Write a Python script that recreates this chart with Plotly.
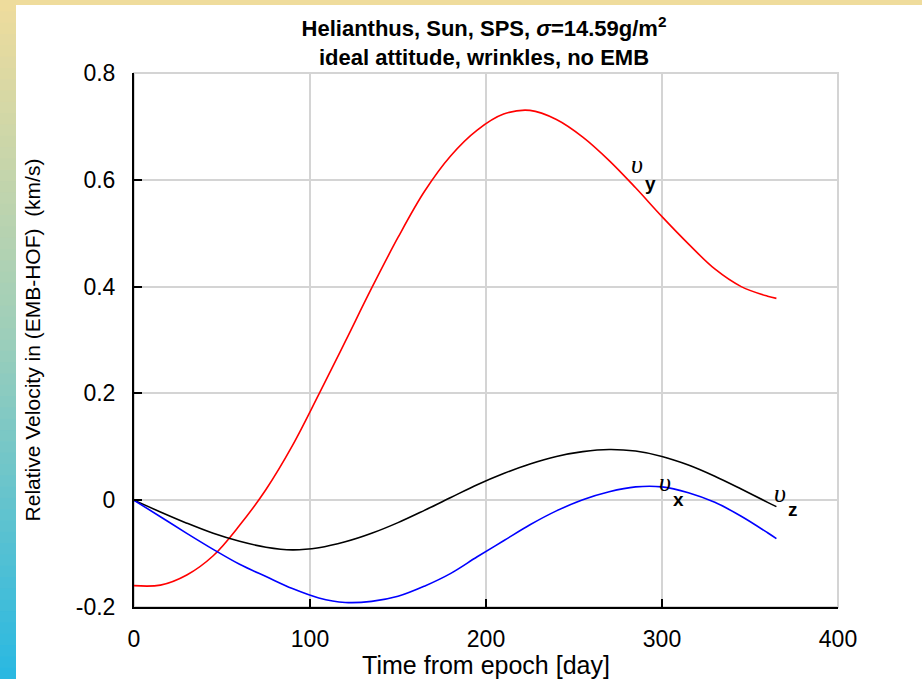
import plotly.graph_objects as go

# ---- data ----
t_days = [0, 15, 30, 45, 60, 75, 90, 105, 120, 135, 150, 165, 180, 195,
          210, 225, 240, 255, 270, 285, 300, 315, 330, 345, 360, 365]
v_y = [-0.160, -0.159, -0.140, -0.104, -0.047, 0.020, 0.102, 0.198, 0.297, 0.397,
       0.492, 0.578, 0.645, 0.693, 0.723, 0.730, 0.713, 0.680, 0.636, 0.585,
       0.531, 0.480, 0.433, 0.400, 0.382, 0.378]
v_z = [0.0, -0.022, -0.043, -0.062, -0.077, -0.088, -0.093, -0.089, -0.078, -0.062,
       -0.042, -0.019, 0.005, 0.029, 0.050, 0.068, 0.082, 0.091, 0.095, 0.092,
       0.082, 0.066, 0.045, 0.021, -0.004, -0.012]
v_x = [0.0, -0.031, -0.062, -0.092, -0.120, -0.143, -0.1655, -0.183, -0.1915, -0.1895,
       -0.180, -0.161, -0.137, -0.106, -0.076, -0.046, -0.020, 0.001, 0.016, 0.025,
       0.025, 0.014, -0.004, -0.030, -0.061, -0.072]

x_ticks = [0, 100, 200, 300, 400]
y_ticks = [-0.2, 0, 0.2, 0.4, 0.6, 0.8]
y_ticklabels = ["-0.2", "0", "0.2", "0.4", "0.6", "0.8"]

W, H = 922, 679
L, R, T, B = 134, 84, 73, 72
PW, PH = W - L - R, H - T - B

fig = go.Figure()
fig.add_trace(go.Scatter(x=t_days, y=v_y, mode="lines", line=dict(color="#ff0000", width=1.6, shape="spline", smoothing=1.0), showlegend=False))
fig.add_trace(go.Scatter(x=t_days, y=v_z, mode="lines", line=dict(color="#000000", width=1.6, shape="spline", smoothing=1.0), showlegend=False))
fig.add_trace(go.Scatter(x=t_days, y=v_x, mode="lines", line=dict(color="#0000ff", width=1.6, shape="spline", smoothing=1.0), showlegend=False))

def px_to_paper_x(px):
    return (px - L) / PW

def px_to_paper_y(py):
    return 1 - (py - T) / PH

shapes = []
# decorative gradient strip on left and top band
stops = [(0.0, (239, 220, 156)), (0.5, (156, 206, 186)), (1.0, (40, 184, 226))]
def grad(f):
    for i in range(len(stops) - 1):
        f0, c0 = stops[i]
        f1, c1 = stops[i + 1]
        if f0 <= f <= f1:
            u = (f - f0) / (f1 - f0)
            return "rgb(%d,%d,%d)" % tuple(round(c0[k] + u * (c1[k] - c0[k])) for k in range(3))
    return "rgb(40,184,226)"
N = 60
for i in range(N):
    y0 = i * H / N
    y1 = (i + 1) * H / N + 1
    shapes.append(dict(type="rect", xref="paper", yref="paper",
                       x0=px_to_paper_x(0), x1=px_to_paper_x(16),
                       y0=px_to_paper_y(y1), y1=px_to_paper_y(y0),
                       fillcolor=grad((i + 0.5) / N), line=dict(width=0), layer="below"))
shapes.append(dict(type="rect", xref="paper", yref="paper",
                   x0=px_to_paper_x(16), x1=px_to_paper_x(W),
                   y0=px_to_paper_y(5), y1=px_to_paper_y(0),
                   fillcolor="rgb(239,220,156)", line=dict(width=0), layer="below"))
# light grey box (top/right)
shapes.append(dict(type="rect", xref="paper", yref="paper", x0=0, x1=1, y0=0, y1=1,
                   line=dict(color="#d4d4d4", width=2), layer="below"))

ann_font_v = dict(family="Liberation Serif", size=26, color="black")
ann_font_s = dict(family="Liberation Sans", size=19, color="black")
annotations = [
    dict(x=285.7, y=0.628, text="<i>υ</i>", showarrow=False, font=ann_font_v),
    dict(x=293.7, y=0.594, text="<b>y</b>", showarrow=False, font=ann_font_s),
    dict(x=301.6, y=0.034, text="<i>υ</i>", showarrow=False, font=ann_font_v),
    dict(x=309.6, y=0.002, text="<b>x</b>", showarrow=False, font=ann_font_s),
    dict(x=367.0, y=0.013, text="<i>υ</i>", showarrow=False, font=ann_font_v),
    dict(x=374.4, y=-0.017, text="<b>z</b>", showarrow=False, font=ann_font_s),
]

fig.update_layout(
    width=W, height=H,
    margin=dict(l=L, r=R, t=T, b=B, pad=0, autoexpand=False),
    paper_bgcolor="white", plot_bgcolor="white",
    font=dict(family="Liberation Sans", color="black"),
    title=dict(text="<b>Helianthus, Sun, SPS, <i>σ</i>=14.59g/m<sup>2</sup></b><br><b>ideal attitude, wrinkles, no EMB</b>",
               x=484 / W, xanchor="center",
               y=1 - 36 / H, yanchor="middle",
               font=dict(family="Liberation Sans", size=22, color="black")),
    shapes=shapes,
    annotations=annotations,
    xaxis=dict(range=[0, 400], tickvals=x_ticks, ticks="inside", ticklen=8, tickwidth=2, tickcolor="black",
               showline=True, linecolor="black", linewidth=2, showgrid=True, gridcolor="#d4d4d4", gridwidth=2,
               zeroline=False, tickfont=dict(size=23), ticklabelstandoff=10, automargin=False,
               title=dict(text="Time from epoch [day]", font=dict(size=25), standoff=12)),
    yaxis=dict(range=[-0.2, 0.8], tickvals=y_ticks, ticktext=y_ticklabels, ticks="inside", ticklen=8, tickwidth=2,
               tickcolor="black", showline=True, linecolor="black", linewidth=2, showgrid=True,
               gridcolor="#d4d4d4", gridwidth=2, zeroline=False, tickfont=dict(size=23), ticklabelstandoff=12,
               automargin=False,
               title=dict(text="Relative Velocity in (EMB-HOF)  (km/s)", font=dict(size=21), standoff=29)),
)

fig.write_html("out.html")
